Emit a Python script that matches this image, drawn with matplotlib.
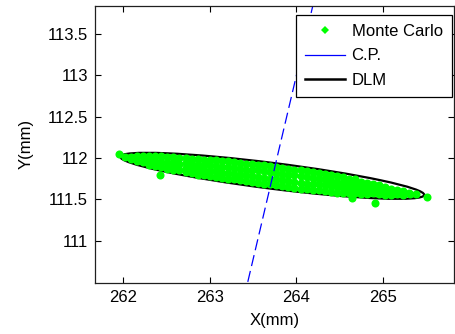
import matplotlib
matplotlib.use("Agg")
import matplotlib.pyplot as plt
from matplotlib.patches import Ellipse
from matplotlib.lines import Line2D

plt.rcParams['font.family'] = ['Liberation Sans', 'DejaVu Sans']

# Monte Carlo samples
mc_x = [262.02,
        262.09, 262.09,
        262.16, 262.16,
        262.23, 262.23,
        262.30, 262.30, 262.30,
        262.37, 262.37, 262.37,
        262.44, 262.44, 262.44,
        262.51, 262.51, 262.51,
        262.58, 262.58, 262.58, 262.58,
        262.65, 262.65, 262.65,
        262.72, 262.72, 262.72, 262.72,
        262.79, 262.79, 262.79, 262.79,
        262.86, 262.86, 262.86, 262.86,
        262.93, 262.93, 262.93, 262.93,
        263.00, 263.00, 263.00, 263.00,
        263.07, 263.07, 263.07, 263.07,
        263.14, 263.14, 263.14, 263.14,
        263.21, 263.21, 263.21, 263.21,
        263.28, 263.28, 263.28, 263.28,
        263.35, 263.35, 263.35, 263.35,
        263.42, 263.42, 263.42, 263.42,
        263.49, 263.49, 263.49, 263.49,
        263.56, 263.56, 263.56, 263.56,
        263.63, 263.63, 263.63, 263.63,
        263.70, 263.70, 263.70, 263.70,
        263.77, 263.77, 263.77, 263.77,
        263.84, 263.84, 263.84, 263.84,
        263.91, 263.91, 263.91, 263.91,
        263.98, 263.98, 263.98, 263.98,
        264.05, 264.05, 264.05, 264.05,
        264.12, 264.12, 264.12, 264.12,
        264.19, 264.19, 264.19, 264.19,
        264.26, 264.26, 264.26, 264.26,
        264.33, 264.33, 264.33, 264.33,
        264.40, 264.40, 264.40, 264.40,
        264.47, 264.47, 264.47, 264.47,
        264.54, 264.54, 264.54, 264.54,
        264.61, 264.61, 264.61, 264.61,
        264.68, 264.68, 264.68, 264.68,
        264.75, 264.75, 264.75, 264.75,
        264.82, 264.82, 264.82, 264.82,
        264.89, 264.89, 264.89,
        264.96, 264.96, 264.96,
        265.03, 265.03, 265.03,
        265.10, 265.10, 265.10,
        265.17, 265.17,
        265.24, 265.24,
        265.31,
        265.38,
        261.954, 262.42, 264.91, 265.51, 264.64, 265.32]
mc_y = [112.01,
        112.015, 111.985,
        112.02, 111.96,
        112.02, 111.95,
        112.02, 111.97, 111.92,
        112.02, 111.96, 111.90,
        112.02, 111.95, 111.89,
        112.01, 111.94, 111.87,
        112.01, 111.95, 111.89, 111.86,
        112.00, 111.93, 111.86,
        112.00, 111.94, 111.88, 111.83,
        111.99, 111.93, 111.87, 111.82,
        111.99, 111.92, 111.86, 111.80,
        111.98, 111.91, 111.85, 111.79,
        111.98, 111.91, 111.84, 111.78,
        111.97, 111.90, 111.84, 111.77,
        111.96, 111.89, 111.82, 111.76,
        111.96, 111.89, 111.82, 111.75,
        111.95, 111.88, 111.81, 111.74,
        111.94, 111.87, 111.80, 111.73,
        111.93, 111.86, 111.79, 111.72,
        111.93, 111.86, 111.78, 111.71,
        111.92, 111.85, 111.77, 111.70,
        111.91, 111.84, 111.76, 111.69,
        111.90, 111.83, 111.75, 111.68,
        111.89, 111.82, 111.74, 111.67,
        111.88, 111.81, 111.73, 111.66,
        111.87, 111.80, 111.72, 111.65,
        111.86, 111.79, 111.71, 111.64,
        111.85, 111.78, 111.70, 111.63,
        111.84, 111.77, 111.69, 111.62,
        111.83, 111.76, 111.68, 111.61,
        111.82, 111.75, 111.68, 111.61,
        111.81, 111.74, 111.67, 111.60,
        111.79, 111.72, 111.66, 111.59,
        111.78, 111.71, 111.65, 111.58,
        111.77, 111.70, 111.64, 111.58,
        111.75, 111.69, 111.63, 111.57,
        111.74, 111.68, 111.62, 111.57,
        111.71, 111.66, 111.60, 111.56,
        111.70, 111.64, 111.58, 111.56,
        111.69, 111.63, 111.57,
        111.67, 111.61, 111.56,
        111.65, 111.60, 111.55,
        111.63, 111.58, 111.55,
        111.61, 111.56,
        111.60, 111.55,
        111.57,
        111.565,
        112.048, 111.80, 111.455, 111.53, 111.51, 111.56]

# C.P. line end points
cp_x = [263.44, 264.205]
cp_y = [110.50, 113.90]

# DLM ellipse: centre, full axes, angle (deg)
dlm_center = (263.723, 111.784)
dlm_width = 3.546
dlm_height = 0.312
dlm_angle = -7.52

x_ticks = [262, 263, 264, 265]
y_ticks = [111, 111.5, 112, 112.5, 113, 113.5]

fig = plt.figure(figsize=(4.55, 3.34), dpi=100)
ax = fig.add_axes([0.2088, 0.1536, 0.789, 0.8284])

ax.plot(mc_x, mc_y, linestyle='none', marker='o', markersize=5.8,
        color=(0, 1, 0), markeredgewidth=0)
ax.plot(cp_x, cp_y, color=(0, 0, 1), linewidth=0.9, dashes=(9, 4))
ax.add_patch(Ellipse(dlm_center, dlm_width, dlm_height, angle=dlm_angle,
                     fill=False, edgecolor='black', linewidth=1.6))

ax.set_xlim(261.673, 265.825)
ax.set_ylim(110.49, 113.84)
ax.set_xticks(x_ticks)
ax.set_yticks(y_ticks)
ax.set_yticklabels(['111', '111.5', '112', '112.5', '113', '113.5'])
ax.tick_params(direction='in', length=4, width=0.8, labelsize=12,
               top=True, right=True, pad=5)
for s in ax.spines.values():
    s.set_linewidth(0.9)
    s.set_color('#202020')

ax.set_xlabel("X(mm)", fontsize=12, labelpad=6)
ax.set_ylabel("Y(mm)", fontsize=12, labelpad=10)

handles = [
    Line2D([], [], linestyle='none', marker='D', markersize=4,
           color=(0, 1, 0), markeredgewidth=0),
    Line2D([], [], color=(0, 0, 1), linewidth=0.9),
    Line2D([], [], color='black', linewidth=1.8),
]
leg = ax.legend(handles, ['Monte Carlo', 'C.P.', 'DLM'], loc='upper right',
                bbox_to_anchor=(0.994, 0.967), borderaxespad=0,
                fontsize=12, fancybox=False, framealpha=1,
                edgecolor='black', handlelength=2.4, handletextpad=0.4,
                labelspacing=0.55, borderpad=0.55)
leg.get_frame().set_linewidth(0.9)

plt.savefig("out.png", dpi=100)
